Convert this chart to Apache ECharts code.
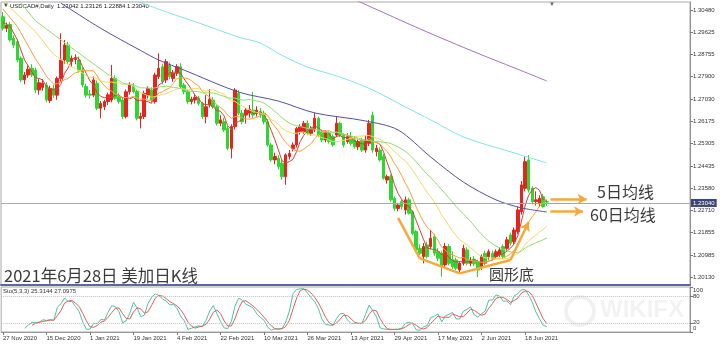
<!DOCTYPE html>
<html><head><meta charset="utf-8">
<script src="https://cdn.jsdelivr.net/npm/echarts@6/dist/echarts.min.js"></script>
<style>html,body{margin:0;padding:0;background:#fff}#c{width:720px;height:345px}</style>
</head><body><div id="c"></div>
<script>
// ---- data (USDCAD daily) ----
const opens = [1.3022,1.2977,1.2992,1.2938,1.2925,1.2861,1.2777,1.2796,1.2822,1.2815,
1.2738,1.2748,1.2757,1.2697,1.2744,1.2718,1.2783,1.2854,1.2912,1.2848,
1.2856,1.2854,1.2815,1.2751,1.2722,1.2718,1.2764,1.2667,1.2673,1.2693,
1.2699,1.2783,1.2712,1.2699,1.2635,1.2731,1.2751,1.2732,1.2628,1.2635,
1.2718,1.2738,1.2693,1.2790,1.2828,1.2777,1.2835,1.2783,1.2803,1.2828,
1.2757,1.2731,1.2693,1.2699,1.2706,1.2686,1.2635,1.2680,1.2699,1.2673,
1.2609,1.2615,1.2589,1.2512,1.2596,1.2725,1.2648,1.2641,1.2648,1.2660,
1.2648,1.2654,1.2648,1.2615,1.2525,1.2467,1.2473,1.2454,1.2402,1.2480,
1.2510,1.2525,1.2576,1.2576,1.2609,1.2570,1.2583,1.2628,1.2576,1.2544,
1.2570,1.2557,1.2563,1.2609,1.2563,1.2538,1.2557,1.2544,1.2518,1.2544,
1.2505,1.2531,1.2640,1.2499,1.2505,1.2480,1.2389,1.2402,1.2318,1.2279,
1.2305,1.2273,1.2312,1.2266,1.2189,1.2124,1.2092,1.2137,1.2131,1.2169,
1.2111,1.2105,1.2060,1.2131,1.2080,1.2079,1.2040,1.2066,1.2118,1.2066,
1.2082,1.2073,1.2053,1.2105,1.2092,1.2105,1.2092,1.2099,1.2131,1.2124,
1.2176,1.2150,1.2189,1.2266,1.2357,1.2467,1.2357,1.2305,1.2299,1.2324,
1.23042];
const highs = [1.3040,1.2999,1.3001,1.2950,1.2935,1.2868,1.2808,1.2832,1.2838,1.2825,
1.2780,1.2780,1.2768,1.2755,1.2758,1.2790,1.2958,1.2932,1.2925,1.2872,
1.2876,1.2868,1.2825,1.2762,1.2738,1.2790,1.2775,1.2695,1.2700,1.2728,
1.2835,1.2795,1.2725,1.2708,1.2740,1.2768,1.2765,1.2740,1.2650,1.2735,
1.2752,1.2748,1.2805,1.2880,1.2840,1.2858,1.2845,1.2815,1.2838,1.2842,
1.2765,1.2740,1.2712,1.2722,1.2715,1.2692,1.2718,1.2741,1.2710,1.2680,
1.2640,1.2630,1.2598,1.2605,1.2745,1.2738,1.2660,1.2668,1.2680,1.2731,
1.2675,1.2668,1.2658,1.2625,1.2532,1.2495,1.2485,1.2465,1.2492,1.2505,
1.2535,1.2595,1.2605,1.2618,1.2620,1.2598,1.2650,1.2635,1.2585,1.2580,
1.2578,1.2565,1.2635,1.2615,1.2570,1.2570,1.2575,1.2560,1.2545,1.2552,
1.2560,1.2622,1.2654,1.2525,1.2515,1.2490,1.2410,1.2410,1.2325,1.2300,
1.2315,1.2325,1.2320,1.2272,1.2195,1.2140,1.2145,1.2150,1.2195,1.2180,
1.2125,1.2115,1.2145,1.2140,1.2112,1.2088,1.2075,1.2138,1.2128,1.2090,
1.2095,1.2080,1.2100,1.2115,1.2120,1.2115,1.2120,1.2128,1.2140,1.2168,
1.2185,1.2205,1.2285,1.2385,1.2480,1.2486,1.2365,1.2345,1.2330,1.2335,
1.23126];
const lows = [1.2968,1.2962,1.2925,1.2900,1.2845,1.2768,1.2760,1.2785,1.2788,1.2725,
1.2720,1.2735,1.2690,1.2687,1.2708,1.2700,1.2770,1.2840,1.2838,1.2828,
1.2838,1.2805,1.2748,1.2708,1.2705,1.2710,1.2660,1.2628,1.2660,1.2680,
1.2690,1.2700,1.2685,1.2625,1.2628,1.2720,1.2725,1.2620,1.2589,1.2625,
1.2705,1.2690,1.2685,1.2780,1.2760,1.2765,1.2780,1.2770,1.2792,1.2745,
1.2722,1.2685,1.2682,1.2685,1.2678,1.2625,1.2609,1.2670,1.2665,1.2600,
1.2598,1.2575,1.2505,1.2473,1.2585,1.2640,1.2605,1.2608,1.2630,1.2630,
1.2635,1.2630,1.2605,1.2518,1.2460,1.2450,1.2430,1.2390,1.2370,1.2468,
1.2500,1.2515,1.2565,1.2568,1.2562,1.2560,1.2575,1.2555,1.2535,1.2535,
1.2530,1.2518,1.2555,1.2555,1.2515,1.2530,1.2522,1.2510,1.2505,1.2498,
1.2495,1.2520,1.2495,1.2480,1.2460,1.2390,1.2375,1.2305,1.2268,1.2268,
1.2275,1.2255,1.2255,1.2175,1.2110,1.2098,1.2066,1.2085,1.2120,1.2095,
1.2075,1.2014,1.2050,1.2058,1.2045,1.2040,1.2028,1.2058,1.2058,1.2055,
1.2055,1.2013,1.2040,1.2058,1.2080,1.2078,1.2082,1.2090,1.2085,1.2115,
1.2135,1.2140,1.2180,1.2255,1.2345,1.2340,1.2295,1.2290,1.2285,1.2282,
1.22884];
const closes = [1.2977,1.2988,1.2932,1.2912,1.2854,1.2777,1.2796,1.2818,1.2796,1.2738,
1.2766,1.2764,1.2699,1.2744,1.2718,1.2783,1.2854,1.2912,1.2848,1.2861,
1.2860,1.2815,1.2757,1.2718,1.2718,1.2777,1.2667,1.2686,1.2693,1.2719,
1.2783,1.2706,1.2693,1.2635,1.2731,1.2757,1.2732,1.2628,1.2635,1.2725,
1.2744,1.2699,1.2796,1.2822,1.2770,1.2848,1.2790,1.2803,1.2828,1.2751,
1.2731,1.2693,1.2702,1.2709,1.2686,1.2635,1.2673,1.2702,1.2673,1.2609,
1.2622,1.2583,1.2512,1.2596,1.2738,1.2648,1.2615,1.2660,1.2663,1.2641,
1.2660,1.2641,1.2615,1.2525,1.2467,1.2480,1.2441,1.2402,1.2486,1.2492,
1.2525,1.2589,1.2596,1.2609,1.2570,1.2589,1.2628,1.2563,1.2544,1.2572,
1.2538,1.2525,1.2609,1.2563,1.2525,1.2557,1.2531,1.2518,1.2538,1.2505,
1.2544,1.2609,1.2505,1.2512,1.2467,1.2396,1.2402,1.2312,1.2279,1.2292,
1.2286,1.2312,1.2260,1.2182,1.2118,1.2105,1.2131,1.2092,1.2163,1.2105,
1.2086,1.2053,1.2131,1.2066,1.2053,1.2047,1.2066,1.2124,1.2066,1.2079,
1.2064,1.2040,1.2092,1.2066,1.2111,1.2086,1.2111,1.2118,1.2092,1.2157,
1.2144,1.2195,1.2273,1.2370,1.2460,1.2350,1.2305,1.2312,1.2318,1.2286,
1.23040];

// start of the short moving averages at the left edge (their history lies before the first bar)
const ma5Lead = [[0,1.3000],[2,1.2985]];
const ma10Lead = [[0,1.3052],[4,1.2984]];
const ma20Lead = [[0,1.3085],[9,1.2964],[14,1.2876]];
const ma30Lead = [[5,1.3075],[9,1.3006],[19,1.2901]];
// long moving averages: [bar index, price]
const ma60Pts = [[16,1.3075],[27,1.2977],[38,1.2891],[43,1.2854],[50,1.2815],[65,1.2730],[76,1.2695],[86,1.2649],[100,1.2618],[109,1.2583],[118,1.2478],[127,1.2381],[136,1.2312],[143,1.2281],[150,1.2265]];
const ma120Pts = [[36,1.3087],[46,1.3036],[54,1.2998],[65,1.2943],[71,1.2920],[77,1.2872],[84,1.2827],[93,1.2788],[102,1.2738],[111,1.2672],[118,1.2622],[127,1.2556],[141,1.2494],[150,1.2455]];
const ma250Pts = [[96,1.3095],[115,1.2975],[131,1.2880],[141,1.2824],[150,1.2773]];

// annotation paths: [bar index, price]
const roundBottom = [[109,1.2242],[115,1.2085],[126,1.2027],[140,1.2079],[145,1.2226]];
const arrow5 = [[151,1.2315],[161,1.2315]];
const arrow60 = [[151,1.2267],[160,1.2267]];

const dateTickLabels = ['27 Nov 2020','15 Dec 2020','1 Jan 2021','19 Jan 2021','4 Feb 2021','22 Feb 2021','10 Mar 2021','26 Mar 2021','13 Apr 2021','29 Apr 2021','17 May 2021','2 Jun 2021','18 Jun 2021'];
const priceTicks = [1.30480,1.29625,1.28755,1.27900,1.27030,1.26175,1.25305,1.24435,1.23580,1.22710,1.21855,1.20985,1.20130];
const stochTickVals = [100,80,20,0];
const stochTickText = ['100','80','20','0'];
const lastPrice = 1.23040;
const headerText = 'USDCAD#,Daily  1.23042 1.23126 1.22884 1.23040';
const stochText = 'Sto(5,3,3) 25.3144 27.0975';

// ---- categories ----
const MON = ['Jan','Feb','Mar','Apr','May','Jun','Jul','Aug','Sep','Oct','Nov','Dec'];
const NCAT = 190;
const categories = [];
let d = new Date(Date.UTC(2020,10,27));
while (categories.length < closes.length) {
  const wd = d.getUTCDay();
  const xmas = d.getUTCMonth() === 11 && d.getUTCDate() === 25;
  if (wd !== 0 && wd !== 6 && !xmas) categories.push(d.getUTCDate() + ' ' + MON[d.getUTCMonth()] + ' ' + d.getUTCFullYear());
  d = new Date(d.getTime() + 86400000);
}
for (let i = categories.length; i < NCAT; i++) categories.push('pad' + i);

const candles = closes.map((c, i) => [opens[i], c, lows[i], highs[i]]);
function ma(n, lead) {
  const out = lead.map(p => p.slice());
  for (let i = n - 1; i < closes.length; i++) {
    let s = 0; for (let j = i - n + 1; j <= i; j++) s += closes[j];
    out.push([i, +(s / n).toFixed(5)]);
  }
  return out;
}
// Stochastic (5,3,3)
const kArr = [], dArr = [];
const ll = [], hh = [];
for (let i = 0; i < closes.length; i++) {
  if (i >= 4) { ll[i] = Math.min(...lows.slice(i - 4, i + 1)); hh[i] = Math.max(...highs.slice(i - 4, i + 1)); }
  if (i >= 6) {
    let num = 0, den = 0;
    for (let j = i - 2; j <= i; j++) { num += closes[j] - ll[j]; den += hh[j] - ll[j]; }
    kArr[i] = den > 0 ? 100 * num / den : 50;
  } else kArr[i] = '-';
  if (i >= 8) dArr[i] = (kArr[i] + kArr[i - 1] + kArr[i - 2]) / 3; else dArr[i] = '-';
}

const SMALL = 'Liberation Sans, Arial, sans-serif';
const CJK = 'Noto Sans CJK SC, sans-serif';
const ORANGE = '#f5a93a';

function seg(a, b, arrow, w) {
  return [{coord: a, symbol: 'none', lineStyle: {color: ORANGE, width: w, type: 'solid'}},
          {coord: b, symbol: arrow ? 'arrow' : 'none', symbolSize: arrow ? [8, 9] : 0}];
}
const annotLines = [];
for (let i = 0; i < roundBottom.length - 1; i++) {
  annotLines.push(seg(roundBottom[i], roundBottom[i + 1], i === roundBottom.length - 2, 2.5));
}
[arrow5, arrow60].forEach(a => annotLines.push(seg(a[0], a[1], true, 2.5)));

const tickShow = (idx, val) => dateTickLabels.indexOf(val) >= 0;

const stochLabelY = [291, 297, 323, 329];
const stochLabelGraphics = stochTickText.map((t, i) => ({
  type: 'text', left: 693, top: stochLabelY[i] - 3.5, style: {text: t, fontSize: 6, fill: '#333', fontFamily: SMALL}
}));

const maLine = (name, data, color, smooth) => ({type: 'line', name, data, smooth: smooth || false, showSymbol: false,
  lineStyle: {width: 1, color}, z: 3});

const chart = echarts.init(document.getElementById('c'), null, {renderer: 'canvas'});
chart.setOption({
  animation: false,
  backgroundColor: '#ffffff',
  grid: [
    {left: 1, right: 30, top: 2, height: 283, show: true, borderColor: '#a8a8a8', borderWidth: 1},
    {left: 1, right: 30, top: 287, height: 45, show: true, borderColor: '#a8a8a8', borderWidth: 1}
  ],
  xAxis: [
    {type: 'category', gridIndex: 0, data: categories, boundaryGap: true,
     axisLine: {show: true, lineStyle: {color: '#5d66a8', width: 2}}, axisTick: {show: false}, axisLabel: {show: false}, splitLine: {show: false}},
    {type: 'category', gridIndex: 1, data: categories, boundaryGap: true,
     axisLine: {show: true, lineStyle: {color: '#9a9a9a', width: 1}},
     axisTick: {show: true, interval: tickShow, alignWithLabel: true, length: 3, lineStyle: {color: '#777'}},
     axisLabel: {show: true, interval: tickShow, align: 'left', fontSize: 6, color: '#333', fontFamily: SMALL, margin: 3, hideOverlap: false},
     splitLine: {show: false}}
  ],
  yAxis: [
    {type: 'value', gridIndex: 0, position: 'right', min: 1.19820, max: 1.30790,
     axisLine: {show: true, lineStyle: {color: '#909090'}},
     axisTick: {show: true, customValues: priceTicks, length: 3, lineStyle: {color: '#777'}},
     axisLabel: {show: true, customValues: priceTicks, formatter: v => v.toFixed(5), fontSize: 6, color: '#333', fontFamily: SMALL, margin: 3, hideOverlap: false},
     splitLine: {show: false}},
    {type: 'value', gridIndex: 1, position: 'right', min: 0, max: 100,
     axisLine: {show: true, lineStyle: {color: '#909090'}},
     axisTick: {show: true, customValues: stochTickVals, length: 3, lineStyle: {color: '#777'}},
     axisLabel: {show: false},
     splitLine: {show: false}}
  ],
  series: [
    {type: 'candlestick', name: 'USDCAD', xAxisIndex: 0, yAxisIndex: 0, data: candles, barWidth: 3, z: 2,
     itemStyle: {color: '#e8221e', color0: '#2fd62f', borderColor: '#e8221e', borderColor0: '#2fd62f', borderWidth: 1},
     markLine: {silent: true, symbol: ['none', 'none'], animation: false, label: {show: false},
       data: [
         {yAxis: lastPrice, lineStyle: {color: '#a8a8a8', width: 1, type: 'solid'},
          label: {show: true, position: 'end', distance: 1, formatter: lastPrice.toFixed(5), color: '#fff', backgroundColor: '#3b4776', padding: [1, 2], fontSize: 6, fontFamily: SMALL}}
       ].concat(annotLines)}},
    maLine('MA5', ma(5, ma5Lead), '#c8463a'),
    maLine('MA10', ma(10, ma10Lead), '#ff9e3a'),
    maLine('MA20', ma(20, ma20Lead), '#f3d766'),
    maLine('MA30', ma(30, ma30Lead), '#96dc70'),
    maLine('MA60', ma60Pts, '#4f529c', 0.3),
    maLine('MA120', ma120Pts, '#7fe2f0', 0.3),
    maLine('MA250', ma250Pts, '#a46fc0', 0.3),
    {type: 'line', name: '%K', xAxisIndex: 1, yAxisIndex: 1, data: kArr, showSymbol: false, lineStyle: {width: 1, color: '#4cc3a8'}, z: 3,
     markLine: {silent: true, symbol: ['none', 'none'], label: {show: false}, lineStyle: {color: '#c0c0c0', type: 'dotted', width: 1},
       data: [{yAxis: 80}, {yAxis: 20}]}},
    {type: 'line', name: '%D', xAxisIndex: 1, yAxisIndex: 1, data: dArr, showSymbol: false, lineStyle: {width: 1, color: '#e0605a'}, z: 3}
  ],
  graphic: [
    {type: 'text', left: 3, top: 2, style: {text: '▼', fontSize: 6, fill: '#333', fontFamily: SMALL}},
    {type: 'text', left: 549, top: 1, style: {text: '▼', fontSize: 6, fill: '#666', fontFamily: SMALL}},
    {type: 'text', left: 10, top: 3, style: {text: headerText, fontSize: 6, fill: '#222', fontFamily: SMALL}},
    {type: 'text', left: 3, top: 288, style: {text: stochText, fontSize: 6, fill: '#333', fontFamily: SMALL}},
    {type: 'text', left: 4, top: 267, style: {text: '2021年6月28日 美加日K线', fontSize: 16.5, fill: '#3a3a3a', fontFamily: CJK}},
    {type: 'text', left: 597, top: 184, style: {text: '5日均线', fontSize: 16, fill: '#3a3a3a', fontFamily: CJK}},
    {type: 'text', left: 590, top: 207, style: {text: '60日均线', fontSize: 16, fill: '#3a3a3a', fontFamily: CJK}},
    {type: 'text', left: 489, top: 267, style: {text: '圆形底', fontSize: 15, fill: '#3a3a3a', fontFamily: CJK}},
    {type: 'circle', shape: {cx: 580, cy: 311, r: 14}, style: {fill: 'none', stroke: 'rgba(0,0,0,0.06)', lineWidth: 4}, silent: true},
    {type: 'text', left: 600, top: 298, style: {text: 'WIKIFX', fontSize: 24, fontWeight: 'bold', fill: 'rgba(0,0,0,0.05)', fontFamily: SMALL}, silent: true}
  ].concat(stochLabelGraphics)
});
</script>
</body></html>
